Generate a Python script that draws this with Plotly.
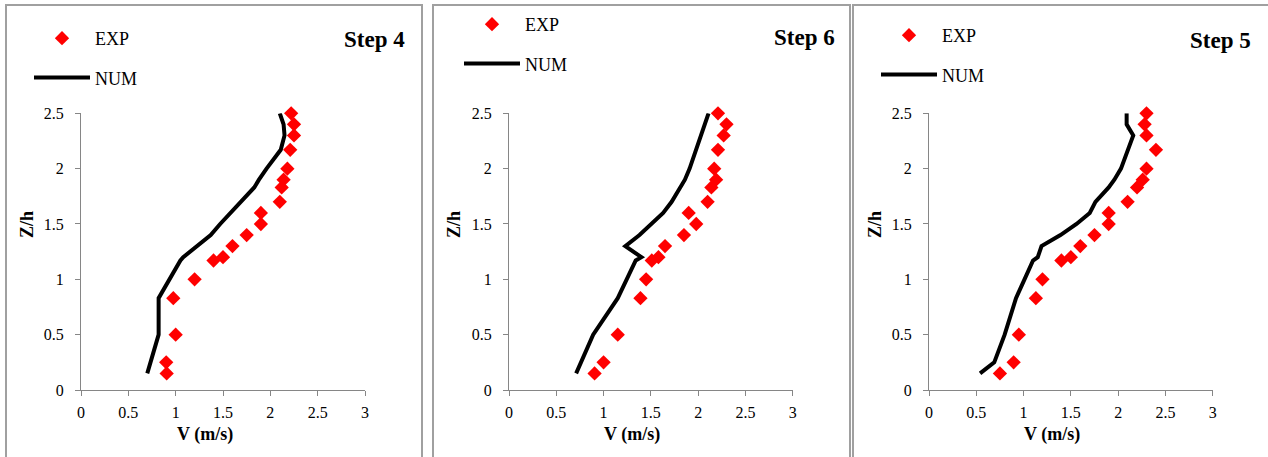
import plotly.graph_objects as go

W, H = 1268, 457

# ---------------- data ----------------
z_h = [0.15, 0.25, 0.5, 0.83, 1.0, 1.17, 1.2, 1.3, 1.4, 1.5, 1.6, 1.7, 1.83, 1.9, 2.0, 2.17, 2.3, 2.4, 2.5]

step4_exp = [0.905, 0.90, 1.0, 0.975, 1.20, 1.40, 1.50, 1.60, 1.75, 1.90, 1.90, 2.10, 2.12, 2.14, 2.18, 2.21, 2.25, 2.25, 2.22]
step4_num = [0.70, 0.735, 0.82, 0.82, 0.93, 1.05, 1.08, 1.22, 1.37, 1.47, 1.58, 1.68, 1.83, 1.88, 1.96, 2.11, 2.15, 2.14, 2.10]

step6_exp = [0.905, 1.0, 1.15, 1.39, 1.45, 1.51, 1.58, 1.65, 1.85, 1.98, 1.90, 2.10, 2.14, 2.19, 2.17, 2.21, 2.27, 2.30, 2.21]
step6_num = [0.71, 0.76, 0.89, 1.15, 1.24, 1.34, 1.40, 1.23, 1.38, 1.50, 1.63, 1.72, 1.81, 1.86, 1.91, 1.98, 2.03, 2.08, 2.11]

step5_exp = [0.75, 0.895, 0.95, 1.13, 1.20, 1.40, 1.50, 1.60, 1.75, 1.90, 1.90, 2.10, 2.20, 2.26, 2.30, 2.40, 2.30, 2.28, 2.30]
step5_num = [0.54, 0.69, 0.80, 0.92, 1.01, 1.10, 1.15, 1.19, 1.39, 1.56, 1.70, 1.76, 1.90, 1.96, 2.03, 2.11, 2.16, 2.09, 2.09]

panel_titles = ["Step 4", "Step 6", "Step 5"]
x_title = "V (m/s)"
y_title = "Z/h"
x_ticks = [0, 0.5, 1, 1.5, 2, 2.5, 3]
y_ticks = [0, 0.5, 1, 1.5, 2, 2.5]

panels = [(step4_exp, step4_num), (step6_exp, step6_num), (step5_exp, step5_num)]

# ---------------- layout geometry (pixels) ----------------
FONT = "Liberation Serif"
plot_x = [(81, 365), (509, 792.7), (929, 1212.7)]
plot_y = (113.3, 390)
borders = [(6, 422), (433, 850), (853, 1280)]
title_pos = [(407, 39), (837, 38), (1253, 40)]
legend_pos = [(29, 20), (459, 6), (876, 17)]
xtitle_pos = [205, 632, 1052]
ytitle_pos = [27, 454, 875]

fig = go.Figure()

legend_names = ["legend", "legend2", "legend3"]
for i, (exp, num) in enumerate(panels):
    xa = "x" if i == 0 else f"x{i+1}"
    ya = "y" if i == 0 else f"y{i+1}"
    fig.add_trace(go.Scatter(
        x=exp, y=z_h, mode="markers", name="EXP", xaxis=xa, yaxis=ya,
        marker=dict(symbol="diamond", size=11, color="#ff0000"),
        cliponaxis=False, legend=legend_names[i], legendgroup=f"exp{i}",
    ))
    fig.add_trace(go.Scatter(
        x=num, y=z_h, mode="lines", name="NUM", xaxis=xa, yaxis=ya,
        line=dict(color="black", width=4),
        cliponaxis=False, legend=legend_names[i], legendgroup=f"num{i}",
    ))

axis_common = dict(
    showline=True, linecolor="#868686", linewidth=1,
    ticks="outside", ticklen=5, tickcolor="#868686", tickwidth=1,
    showgrid=False, zeroline=False, automargin=False,
    tickfont=dict(family=FONT, size=16, color="black"),
)

layout = dict(
    width=W, height=H, autosize=False,
    margin=dict(l=0, r=0, t=0, b=0, pad=0, autoexpand=False),
    paper_bgcolor="white", plot_bgcolor="white",
    font=dict(family=FONT, color="black"),
    shapes=[], annotations=[],
)

for i in range(3):
    sfx = "" if i == 0 else str(i + 1)
    x0, x1 = plot_x[i]
    layout[f"xaxis{sfx}"] = dict(
        axis_common, domain=[x0 / W, x1 / W], range=[0, 3],
        tickvals=x_ticks, anchor=f"y{sfx}", ticklabelstandoff=3,
    )
    layout[f"yaxis{sfx}"] = dict(
        axis_common, domain=[1 - plot_y[1] / H, 1 - plot_y[0] / H], range=[0, 2.5],
        tickvals=y_ticks, anchor=f"x{sfx}", ticklabelstandoff=8,
    )
    lx, ly = legend_pos[i]
    layout[legend_names[i]] = dict(
        x=lx / W, y=1 - ly / H, xanchor="left", yanchor="top",
        font=dict(family=FONT, size=18, color="black"),
        bgcolor="rgba(0,0,0,0)", tracegroupgap=13, itemwidth=56,
        traceorder="grouped",
    )
    bx0, bx1 = borders[i]
    layout["shapes"].append(dict(
        type="rect", xref="paper", yref="paper",
        x0=bx0 / W, x1=bx1 / W, y0=-0.2, y1=1 - 5 / H,
        line=dict(color="#a0a0a0", width=2), fillcolor="rgba(0,0,0,0)",
    ))
    tx, ty = title_pos[i]
    layout["annotations"].append(dict(
        text=f"<b>{panel_titles[i]}</b>", xref="paper", yref="paper",
        x=tx / W, y=1 - ty / H, xanchor="right", yanchor="middle",
        showarrow=False, font=dict(family=FONT, size=23, color="black"),
    ))
    layout["annotations"].append(dict(
        text=f"<b>{x_title}</b>", xref="paper", yref="paper",
        x=xtitle_pos[i] / W, y=1 - 434 / H, xanchor="center", yanchor="middle",
        showarrow=False, font=dict(family=FONT, size=18, color="black"),
    ))
    layout["annotations"].append(dict(
        text=f"<b>{y_title}</b>", xref="paper", yref="paper",
        x=ytitle_pos[i] / W, y=1 - 225 / H, xanchor="center", yanchor="middle",
        textangle=-90, showarrow=False, font=dict(family=FONT, size=18, color="black"),
    ))

fig.update_layout(**layout)
fig.write_html(
    "out.html",
    config={"displayModeBar": False},
    post_script="document.body.style.margin='0px';",
)
